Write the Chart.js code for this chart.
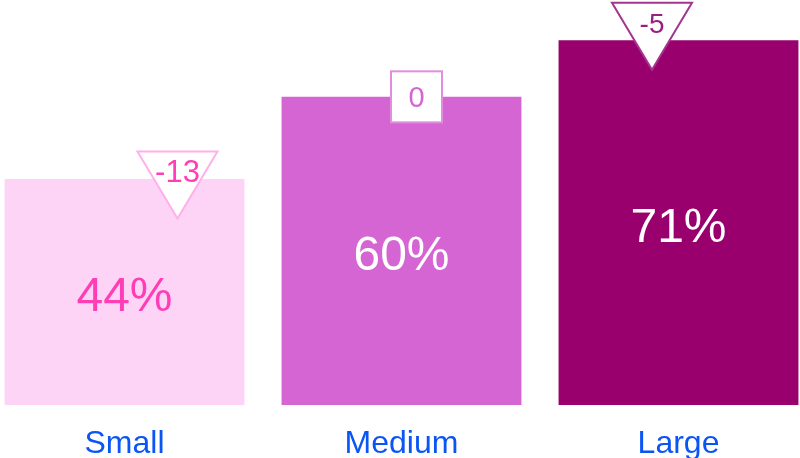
<!DOCTYPE html>
<html>
<head>
<meta charset="utf-8">
<script src="https://cdn.jsdelivr.net/npm/chart.js@4.4.1/dist/chart.umd.min.js"></script>
<style>
  html, body { margin: 0; padding: 0; background: #fff; overflow: hidden; }
  body { width: 800px; height: 458px; position: relative; }
  #wrap { position: absolute; left: -14.5px; top: 0; width: 831px; height: 458px; }
</style>
</head>
<body>
<div id="wrap"><canvas id="chart"></canvas></div>
<script>
// Data
const categories = ['Small', 'Medium', 'Large'];
const shares = [44, 60, 71];
const changes = [-13, 0, -5];

// Styles
const barColors = ['#fed4f6', '#d565d2', '#99006e'];
const valueColors = ['#ff3db5', '#ffffff', '#ffffff'];
const markerShapes = ['down', 'box', 'down'];
const markerStroke = ['#ffb0ea', '#e28ee0', '#a3358f'];
const markerText = ['#ff3db5', '#d565d2', '#9b1e85'];
const markerFont = [31, 29, 28];
const markerDx = [53, 15, -26.5];
const markerDy = [6, 0, -4];

// Value labels inside bars + change markers
const barAnnotations = {
  id: 'barAnnotations',
  afterDatasetsDraw(chart) {
    const ctx = chart.ctx;
    const meta = chart.getDatasetMeta(0);
    meta.data.forEach((bar, i) => {
      // value label
      ctx.save();
      ctx.font = '48px "Liberation Sans", Arial, sans-serif';
      ctx.fillStyle = valueColors[i];
      ctx.textAlign = 'center';
      ctx.textBaseline = 'middle';
      ctx.fillText(shares[i] + '%', bar.x, (bar.y + bar.base) / 2 + 6);
      ctx.restore();

      // change marker
      const cx = bar.x + markerDx[i];
      const cy = bar.y + markerDy[i];
      ctx.save();
      ctx.lineWidth = 2;
      ctx.strokeStyle = markerStroke[i];
      ctx.fillStyle = '#ffffff';
      let ty = cy;
      if (markerShapes[i] === 'down') {
        const w = 80, h = 67;
        ctx.beginPath();
        ctx.moveTo(cx - w / 2, cy - h / 2);
        ctx.lineTo(cx + w / 2, cy - h / 2);
        ctx.lineTo(cx, cy + h / 2);
        ctx.closePath();
        ctx.fill();
        ctx.stroke();
        ty = cy - h / 2 + 22;
      } else {
        const s = 51;
        ctx.fillRect(cx - s / 2, cy - s / 2, s, s);
        ctx.strokeRect(cx - s / 2, cy - s / 2, s, s);
        ty = cy + 2;
      }
      ctx.font = markerFont[i] + 'px "Liberation Sans", Arial, sans-serif';
      ctx.fillStyle = markerText[i];
      ctx.textAlign = 'center';
      ctx.textBaseline = 'middle';
      ctx.fillText(String(changes[i]), cx, ty);
      ctx.restore();
    });
  }
};

new Chart(document.getElementById('chart'), {
  type: 'bar',
  data: {
    labels: categories,
    datasets: [{
      data: shares,
      backgroundColor: barColors,
      borderWidth: 0,
      categoryPercentage: 1,
      barPercentage: 0.866
    }]
  },
  options: {
    responsive: true,
    maintainAspectRatio: false,
    animation: false,
    layout: { padding: 0 },
    plugins: {
      legend: { display: false },
      tooltip: { enabled: false }
    },
    scales: {
      x: {
        grid: { display: false },
        border: { display: false },
        ticks: {
          padding: 12,
          color: '#0b55f5',
          font: { family: '"Liberation Sans", Arial, sans-serif', size: 32 }
        },
        afterFit(scale) { scale.height = 53; }
      },
      y: {
        display: false,
        min: 0,
        max: 78.85
      }
    }
  },
  plugins: [barAnnotations]
});
</script>
</body>
</html>
